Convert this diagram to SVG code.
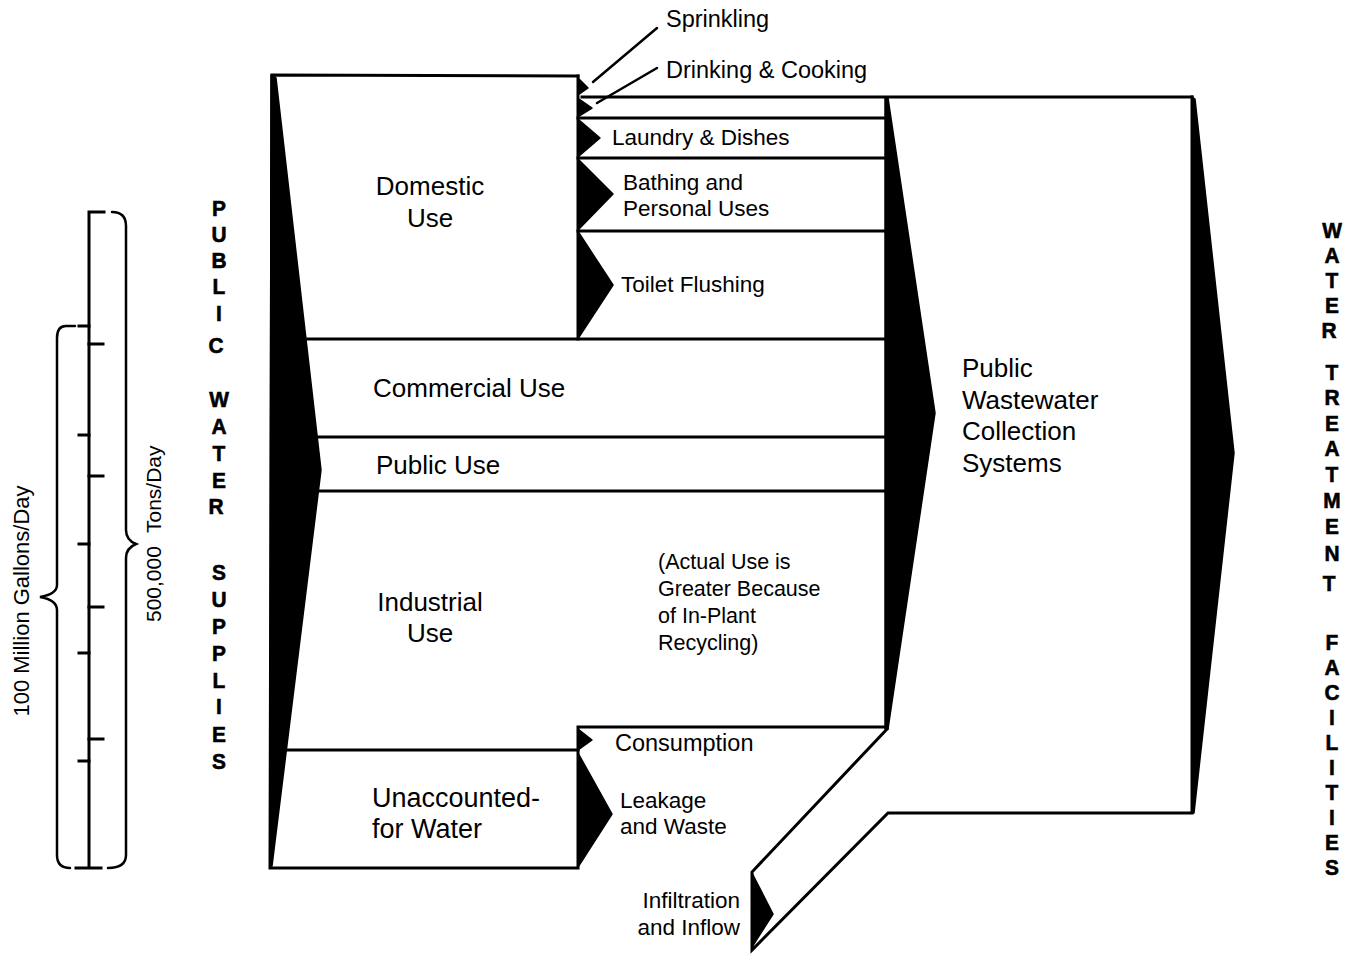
<svg xmlns="http://www.w3.org/2000/svg" width="1367" height="956" viewBox="0 0 1367 956">
  <style>
    .edge { fill: none; stroke: #000; stroke-width: 3; stroke-linejoin: miter; stroke-linecap: square; }
    .thin { fill: none; stroke: #000; stroke-width: 2.5; stroke-linecap: round; }
    .wedge { fill: #000; stroke: #000; stroke-width: 1.5; stroke-linejoin: round; }
    .big { font-family: "Liberation Sans", Arial, sans-serif; font-size: 26px; fill: #000; }
    .small { font-family: "Liberation Sans", Arial, sans-serif; font-size: 22.5px; fill: #000; }
    .note { font-family: "Liberation Sans", Arial, sans-serif; font-size: 21.5px; fill: #000; }
    .axis { font-family: "Liberation Sans", Arial, sans-serif; font-size: 21px; fill: #000; }
    .stack { font-family: "Liberation Sans", Arial, sans-serif; font-weight: bold; font-size: 22px; fill: #000; stroke: #000; stroke-width: 0.6; text-anchor: middle; }
  </style>

  <rect width="1367" height="956" fill="#fff"/>

  <!-- scale bar with the two unit braces -->
  <g id="scale">
    <path class="edge" d="M89,212 V868 M89,212 H104 M76,868 H101"/>
    <path class="edge" d="M79,326 H89 M79,435 H89 M79,544 H89 M79,653 H89 M79,761 H89"/>
    <path class="edge" d="M89,344 H103 M89,476 H103 M89,607 H103 M89,739 H103"/>
    <!-- 500,000 tons/day brace -->
    <path class="thin" d="M112,212 Q126,212 126,226 V530 Q126,540 136,544 Q126,548 126,558 V855 Q126,868 108,868"/>
    <!-- 100 million gallons/day brace -->
    <path class="thin" d="M75,326 H66 Q57,326 57,338 V585 Q57,594 40,597 Q57,600 57,610 V855 Q57,868 70,868"/>
    <text class="axis" transform="translate(29,601) rotate(-90)" text-anchor="middle" style="font-size:22px">100 Million Gallons/Day</text>
    <text class="axis" transform="translate(161,622) rotate(-90)">500,000</text>
    <text class="axis" transform="translate(161,533) rotate(-90)">Tons/Day</text>
  </g>

  <!-- supply source label -->
  <g id="public-water-supplies">
    <g transform="translate(219,0) scale(0.95,1)">
      <text class="stack">
        <tspan x="0" y="216">P</tspan><tspan x="0" y="242">U</tspan><tspan x="0" y="268">B</tspan><tspan x="0" y="294">L</tspan><tspan x="0" y="321">I</tspan><tspan x="0" y="353">C</tspan>
        <tspan x="0" y="407">W</tspan><tspan x="0" y="434">A</tspan><tspan x="0" y="461">T</tspan><tspan x="0" y="488">E</tspan><tspan x="0" y="514">R</tspan>
        <tspan x="0" y="580">S</tspan><tspan x="0" y="607">U</tspan><tspan x="0" y="634">P</tspan><tspan x="0" y="661">P</tspan><tspan x="0" y="688">L</tspan><tspan x="0" y="714">I</tspan><tspan x="0" y="742">E</tspan><tspan x="0" y="769">S</tspan>
      </text>
    </g>
  </g>

  <!-- treatment destination label -->
  <g id="water-treatment-facilities">
    <g transform="translate(1332,0) scale(0.95,1)">
      <text class="stack">
        <tspan x="0" y="238">W</tspan><tspan x="0" y="263">A</tspan><tspan x="0" y="288">T</tspan><tspan x="0" y="313">E</tspan><tspan x="0" y="338">R</tspan>
        <tspan x="0" y="380">T</tspan><tspan x="0" y="405">R</tspan><tspan x="0" y="431">E</tspan><tspan x="0" y="456">A</tspan><tspan x="0" y="482">T</tspan><tspan x="0" y="508">M</tspan><tspan x="0" y="534">E</tspan><tspan x="0" y="561">N</tspan><tspan x="0" y="591">T</tspan>
        <tspan x="0" y="650">F</tspan><tspan x="0" y="675">A</tspan><tspan x="0" y="700">C</tspan><tspan x="0" y="725">I</tspan><tspan x="0" y="750">L</tspan><tspan x="0" y="775">I</tspan><tspan x="0" y="800">T</tspan><tspan x="0" y="825">I</tspan><tspan x="0" y="850">E</tspan><tspan x="0" y="875">S</tspan>
      </text>
    </g>
  </g>

  <!-- supply block: outer frame and inflow wedge -->
  <g id="supply">
    <path class="edge" d="M578,76 L272,75 L270,868 H578 V727 H887"/>
    <polygon class="wedge" points="271,75 276,78 321,470 272,866 270,866"/>
  </g>

  <g id="domestic">
    <path class="edge" d="M578,76 V339"/>
    <text class="big" x="430" y="195" text-anchor="middle">Domestic</text>
    <text class="big" x="430" y="227" text-anchor="middle">Use</text>
  </g>

  <g id="commercial">
    <path class="edge" d="M305,339 H885"/>
    <text class="big" x="373" y="397">Commercial Use</text>
  </g>

  <g id="public-use">
    <path class="edge" d="M317,437 H885"/>
    <text class="big" x="376" y="474">Public Use</text>
  </g>

  <g id="industrial">
    <path class="edge" d="M318,491 H885"/>
    <text class="big" x="430" y="611" text-anchor="middle">Industrial</text>
    <text class="big" x="430" y="642" text-anchor="middle">Use</text>
    <text class="note" x="658" y="569">(Actual Use is</text>
    <text class="note" x="658" y="596">Greater Because</text>
    <text class="note" x="658" y="623">of In-Plant</text>
    <text class="note" x="658" y="650">Recycling)</text>
  </g>

  <g id="unaccounted">
    <path class="edge" d="M286,750 H578"/>
    <text class="big" x="372" y="807" style="font-size:27px">Unaccounted-</text>
    <text class="big" x="372" y="838" style="font-size:27px">for Water</text>
  </g>

  <!-- domestic end uses -->
  <g id="sprinkling">
    <polygon class="wedge" points="578,78 588,88 578,95"/>
    <text class="small" x="666" y="27" style="font-size:23.5px">Sprinkling</text>
  </g>
  <g id="drinking-cooking">
    <path class="edge" d="M582,97 H1192"/>
    <polygon class="wedge" points="579,99 592,108 579,116"/>
    <text class="small" x="666" y="78" style="font-size:23.5px">Drinking &amp; Cooking</text>
  </g>
  <g id="laundry-dishes">
    <path class="edge" d="M578,118 H885"/>
    <polygon class="wedge" points="579,120 600,138 579,156"/>
    <text class="small" x="612" y="145">Laundry &amp; Dishes</text>
  </g>
  <g id="bathing">
    <path class="edge" d="M578,158 H885"/>
    <polygon class="wedge" points="579,160 613,194 579,229"/>
    <text class="small" x="623" y="190">Bathing and</text>
    <text class="small" x="623" y="216">Personal Uses</text>
  </g>
  <g id="toilet">
    <path class="edge" d="M578,231 H885"/>
    <polygon class="wedge" points="579,233 613,285 579,337"/>
    <text class="small" x="621" y="292">Toilet Flushing</text>
  </g>

  <!-- losses -->
  <g id="consumption">
    <polygon class="wedge" points="578,729 592,740 578,750"/>
    <text class="small" x="615" y="751" style="font-size:23.5px">Consumption</text>
  </g>
  <g id="leakage">
    <polygon class="wedge" points="578,753 612,814 578,867"/>
    <text class="small" x="620" y="808">Leakage</text>
    <text class="small" x="620" y="834">and Waste</text>
  </g>

  <!-- collection system with infiltration inflow -->
  <g id="collection">
    <path class="edge" d="M1192,97 V813 H888 L752,950 V872 L887,729"/>
    <polygon class="wedge" points="885,97 888,98 935,413 888,729 885,729"/>
    <text class="big" x="962" y="377">Public</text>
    <text class="big" x="962" y="409">Wastewater</text>
    <text class="big" x="962" y="440">Collection</text>
    <text class="big" x="962" y="472">Systems</text>
  </g>

  <g id="infiltration">
    <polygon class="wedge" points="752,873 773,914 752,947"/>
    <text class="small" x="740" y="908" text-anchor="end">Infiltration</text>
    <text class="small" x="740" y="935" text-anchor="end">and Inflow</text>
  </g>

  <g id="treatment">
    <polygon class="wedge" points="1192,97 1195,99 1234,453 1194,813 1192,813"/>
  </g>

  <!-- label leader lines -->
  <g id="connectors">
    <path class="thin" d="M593,82 L657,28"/>
    <path class="thin" d="M597,103 L657,68"/>
  </g>
</svg>
